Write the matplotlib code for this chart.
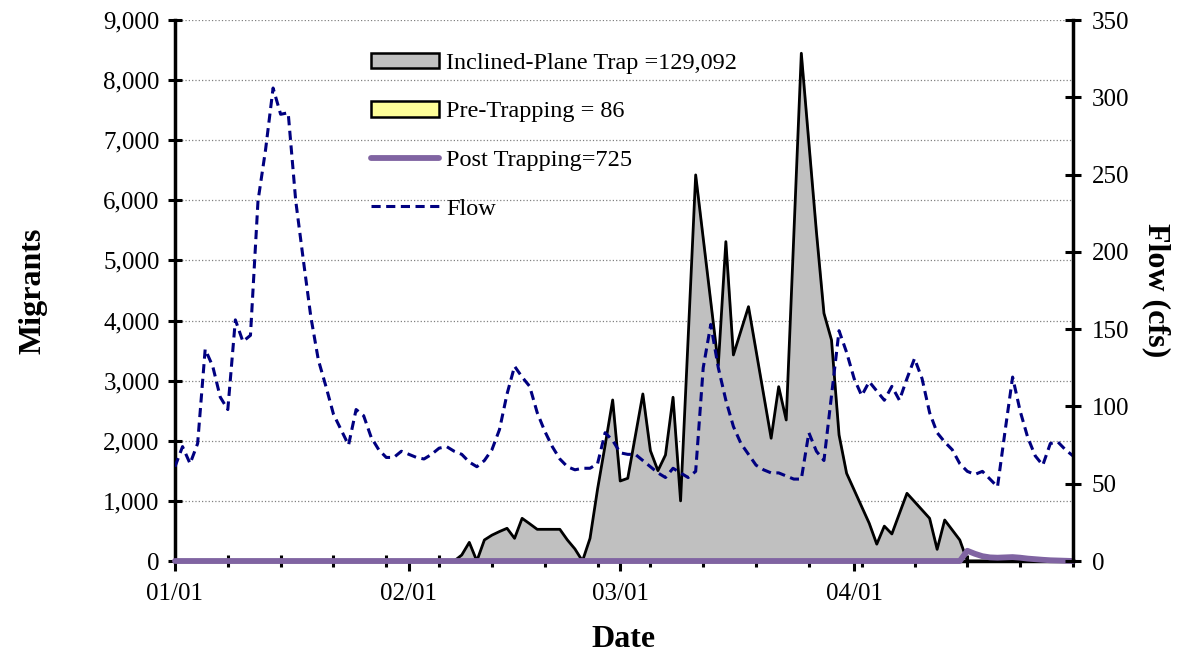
import matplotlib
matplotlib.use('Agg')
import matplotlib.pyplot as plt
import matplotlib.dates as mdates
import pandas as pd
from matplotlib.patches import Patch
from matplotlib.lines import Line2D
from matplotlib.ticker import FuncFormatter, MultipleLocator

plt.rcParams['font.family'] = ['Liberation Serif', 'DejaVu Serif']

# daily values 01/01 - 04/30
dates = pd.date_range('2011-01-01', '2011-04-30', freq='D')

trap = [0, 0, 0, 0, 0, 0, 0, 0, 0, 0,
        0, 0, 0, 0, 0, 0, 0, 0, 0, 0,
        0, 0, 0, 0, 0, 0, 0, 0, 0, 0,
        0, 0, 0, 0, 0, 0, 0, 0, 100, 310,
        0, 350, 430, 490, 544, 377, 710, 620, 527, 527,
        527, 527, 350, 200, 0, 377, 1198, 1925, 2679, 1331,
        1376, 2078, 2779, 1835, 1503, 1764, 2724, 1000, 3700, 6423,
        5369, 4315, 3261, 5313, 3428, 3830, 4231, 3501, 2772, 2042,
        2900, 2346, 5400, 8447, 6960, 5477, 4121, 3677, 2097, 1459,
        1182, 904, 627, 280, 580, 450, 790, 1126, 988, 849,
        710, 194, 682, 516, 350, 0, 0, 0, 0, 0,
        0, 0, 0, 0, 0, 0, 0, 0, 0, 0]

post = [0, 0, 0, 0, 0, 0, 0, 0, 0, 0,
        0, 0, 0, 0, 0, 0, 0, 0, 0, 0,
        0, 0, 0, 0, 0, 0, 0, 0, 0, 0,
        0, 0, 0, 0, 0, 0, 0, 0, 0, 0,
        0, 0, 0, 0, 0, 0, 0, 0, 0, 0,
        0, 0, 0, 0, 0, 0, 0, 0, 0, 0,
        0, 0, 0, 0, 0, 0, 0, 0, 0, 0,
        0, 0, 0, 0, 0, 0, 0, 0, 0, 0,
        0, 0, 0, 0, 0, 0, 0, 0, 0, 0,
        0, 0, 0, 0, 0, 0, 0, 0, 0, 0,
        0, 0, 0, 0, 0, 170, 120, 80, 60, 55,
        60, 65, 55, 40, 30, 20, 12, 8, 4, 0]

flow = [61, 74, 63, 76, 137, 126, 106, 98, 156, 142,
        146, 233, 266, 306, 289, 290, 233, 195, 158, 130,
        113, 95, 85, 75, 98, 94, 80, 72, 67, 67,
        71, 69, 67, 66, 69, 73, 74, 71, 69, 64,
        61, 65, 72, 85, 108, 126, 119, 113, 96, 84,
        74, 66, 61, 59, 60, 60, 63, 83, 78, 70,
        69, 69, 65, 61, 57, 54, 60, 57, 54, 58,
        125, 153, 125, 104, 87, 76, 69, 62, 59, 57,
        57, 55, 53, 53, 83, 71, 65, 107, 149, 135,
        118, 107, 116, 110, 104, 113, 104, 118, 131, 118,
        96, 83, 77, 72, 63, 58, 56, 58, 53, 48,
        84, 119, 97, 80, 68, 62, 76, 77, 72, 68]

labels = ['Inclined-Plane Trap =129,092', 'Pre-Trapping = 86',
          'Post Trapping=725', 'Flow']

fig = plt.figure(figsize=(11.8, 6.54), dpi=100)
ax = fig.add_axes([0.1483, 0.1422, 0.761, 0.8272])
ax2 = ax.twinx()

ax.fill_between(dates, trap, 0, color='#C0C0C0', zorder=2)
ax.plot(dates, trap, color='black', lw=2, zorder=3)
ax.plot(dates, post, color='#8064A2', lw=4.2, zorder=4, solid_capstyle='round', clip_on=False)
ax2.plot(dates, flow, color='#000080', lw=2.2, ls=(0, (3, 1.8)))

ax.set_xlim(dates[0], dates[-1])
ax.set_ylim(0, 9000)
ax2.set_ylim(0, 350)

ax.yaxis.set_major_locator(MultipleLocator(1000))
ax.yaxis.set_major_formatter(FuncFormatter(lambda v, p: '{:,.0f}'.format(v)))
ax2.yaxis.set_major_locator(MultipleLocator(50))
ax.grid(axis='y', color='#808080', ls=':', lw=0.9, zorder=0)
ax.set_axisbelow(True)

ax.xaxis.set_major_locator(mdates.MonthLocator())
ax.xaxis.set_major_formatter(mdates.DateFormatter('%m/%d'))
ax.set_xticks(dates[::7], minor=True)

for a in (ax, ax2):
    for s in a.spines.values():
        s.set_linewidth(2.5)
    a.spines['top'].set_visible(False)
# twin axis keeps only its right spine so the purple line stays visible
ax2.spines['bottom'].set_visible(False)
ax2.spines['left'].set_visible(False)
ax.spines['right'].set_visible(False)

ax.tick_params(axis='x', which='major', direction='out', length=7, width=2.2, labelsize=18, pad=9)
ax.tick_params(axis='x', which='minor', direction='inout', length=8, width=2.2)
ax.tick_params(axis='y', direction='inout', length=10, width=2.2, labelsize=18, pad=6)
ax2.tick_params(axis='y', direction='inout', length=11, width=2.2, labelsize=18, pad=8)

ax.set_xlabel('Date', fontsize=23, fontweight='bold', labelpad=14)
ax.set_ylabel('Migrants', fontsize=23, fontweight='bold', labelpad=40)
ax2.set_ylabel('Flow (cfs)', fontsize=23, fontweight='bold', rotation=270, labelpad=30)

handles = [Patch(facecolor='#C0C0C0', edgecolor='black', lw=1.8),
           Patch(facecolor='#FFFF99', edgecolor='black', lw=1.8),
           Line2D([], [], color='#8064A2', lw=4.2, solid_capstyle='round'),
           Line2D([], [], color='#000080', lw=2.2, ls=(0, (3, 1.8)))]
ax2.legend(handles, labels, loc='upper left', bbox_to_anchor=(0.194, 0.98),
           frameon=False, fontsize=17.5, handlelength=2.8, handleheight=0.6,
           handletextpad=0.3, labelspacing=1.12)

fig.savefig('out.png', dpi=100)
